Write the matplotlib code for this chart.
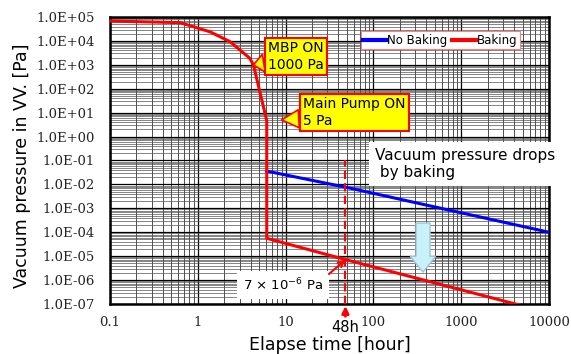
import matplotlib
matplotlib.use("Agg")
import matplotlib.pyplot as plt
from matplotlib.ticker import LogLocator, FixedLocator, FixedFormatter, NullFormatter
from matplotlib.patches import FancyArrow

# ---------------- data ----------------
baking_t = [0.1, 0.63, 1.38, 2.33, 3.9, 4.3, 6.1, 6.1, 48, 10000]
baking_p = [6.8e4, 5.8e4, 2.4e4, 9.3e3, 1.9e3, 1.0e3, 4.6, 5.6e-5, 7.2e-6, 4.3e-8]

nobake_t = [6.1, 48, 10000]
nobake_p = [3.6e-2, 7.7e-3, 1.0e-4]

x_ticks = [0.1, 1, 10, 100, 1000, 10000]
x_labels = ["0.1", "1", "10", "100", "1000", "10000"]
y_ticks = [1e-7, 1e-6, 1e-5, 1e-4, 1e-3, 1e-2, 1e-1, 1e0, 1e1, 1e2, 1e3, 1e4, 1e5]
y_labels = ["{:.1E}".format(v) for v in y_ticks]

mark_t = 48          # 48 h marker
mark_p = 7e-6        # pressure at 48 h
mbp_point = (4.3, 1000)
main_point = (9.0, 5)

# ---------------- figure ----------------
fig = plt.figure(figsize=(5.71, 3.54), dpi=100)
ax = fig.add_axes([110/571, 1-304/354, 439/571, 287/354])

ax.set_xscale("log")
ax.set_yscale("log")
ax.set_xlim(0.1, 10000)
ax.set_ylim(1e-7, 1e5)

ax.xaxis.set_major_locator(FixedLocator(x_ticks))
ax.xaxis.set_major_formatter(FixedFormatter(x_labels))
ax.yaxis.set_major_locator(FixedLocator(y_ticks))
ax.yaxis.set_major_formatter(FixedFormatter(y_labels))
ax.xaxis.set_minor_locator(LogLocator(base=10, subs=range(2, 10), numticks=100))
ax.yaxis.set_minor_locator(LogLocator(base=10, subs=range(2, 10), numticks=100))
ax.xaxis.set_minor_formatter(NullFormatter())
ax.yaxis.set_minor_formatter(NullFormatter())

ax.grid(which="major", color="black", lw=0.9)
ax.grid(which="minor", axis="x", color="#333333", lw=0.6)
ax.grid(which="minor", axis="y", color="#555555", lw=0.5)
ax.set_axisbelow(True)
ax.tick_params(which="both", length=0)
ax.tick_params(axis="both", which="major", labelsize=9.5,
               labelfontfamily="DejaVu Serif", labelcolor="#222222")
ax.tick_params(axis="x", pad=9)
ax.tick_params(axis="y", pad=11)
for sp in ax.spines.values():
    sp.set_linewidth(1.8)
    sp.set_color("black")

ax.plot(nobake_t, nobake_p, color="#0000ff", lw=2.2, label="No Baking", zorder=3)
ax.plot(baking_t, baking_p, color="#ff0000", lw=2.2, label="Baking", zorder=4)

leg = ax.legend(loc="upper right", bbox_to_anchor=(0.933, 0.95), ncol=2,
                fontsize=8.5, frameon=True, fancybox=False, handlelength=2.0,
                handletextpad=0.05, columnspacing=0.4, borderpad=0.2,
                borderaxespad=0)
leg.get_frame().set_edgecolor("#ff8080")
leg.get_frame().set_linewidth(0.8)
leg.get_frame().set_alpha(1)
for h in leg.get_lines():
    h.set_linewidth(3)

ax.set_xlabel("Elapse time [hour]", fontsize=12.5)
ax.set_ylabel("Vacuum pressure in VV. [Pa]", fontsize=12.5)
ax.xaxis.set_label_coords((330-110)/439, (304-345)/287)
ax.yaxis.set_label_coords((22-110)/439, (304-166)/287)
ax.xaxis.label.set_va("center")
ax.yaxis.label.set_va("center")

# 48h dashed line
ax.vlines(mark_t, 1e-7, 1e-1, colors="#ff0000", linestyles=(0, (4, 2)), lw=1.5, zorder=5)

# callouts
callout_box = dict(boxstyle="square,pad=0.25", fc="#ffff00", ec="#ff0000", lw=1.5)
wedge = dict(arrowstyle="wedge,tail_width=1.3,shrink_factor=0.5",
             fc="#ffff00", ec="#ff0000", lw=1.2, relpos=(0.0, 0.3),
             shrinkA=0, shrinkB=0)
ax.annotate("MBP ON\n1000 Pa", xy=mbp_point, xycoords="data",
            xytext=(268, 354-56.5), textcoords="figure pixels",
            ha="left", va="center", fontsize=10, bbox=callout_box, zorder=6,
            arrowprops=wedge)
ax.annotate("Main Pump ON\n5 Pa", xy=main_point, xycoords="data",
            xytext=(303, 354-112.5), textcoords="figure pixels",
            ha="left", va="center", fontsize=10, bbox=callout_box, zorder=6,
            arrowprops=wedge)

fig.text(375, 354-164, "Vacuum pressure drops\n by baking", transform=None,
         fontsize=11, ha="left", va="center", zorder=7,
         bbox=dict(boxstyle="square,pad=0.4", fc="white", ec="none"))

ax.annotate("7 × 10$^{-6}$ Pa", xy=(243, 354-285), xycoords="figure pixels",
            ha="left", va="center", fontsize=9.5, zorder=7,
            bbox=dict(boxstyle="square,pad=0.45", fc="white", ec="none"))
ax.annotate("", xy=(mark_t, mark_p), xycoords="data",
            xytext=(329, 354-274), textcoords="figure pixels",
            arrowprops=dict(arrowstyle="->", color="#ff0000", lw=1.5,
                            shrinkA=0, shrinkB=0), zorder=7)

ax.annotate("48h", xy=(mark_t, 354-306), xycoords=("data", "figure pixels"),
            xytext=(mark_t, 354-328), textcoords=("data", "figure pixels"),
            ha="center", va="center", fontsize=10.5, annotation_clip=False,
            arrowprops=dict(arrowstyle="-|>", color="#ff0000", lw=2,
                            mutation_scale=10, shrinkA=1, shrinkB=0))

# light blue down arrow
arr = FancyArrow(0.713, 0.282, 0, -0.171, width=0.032, head_width=0.058,
                 head_length=0.055, length_includes_head=True,
                 transform=ax.transAxes, fc="#c8f2fa", ec="#a8bfe0", lw=1, zorder=6)
ax.add_patch(arr)

fig.savefig("out.png", dpi=100)
